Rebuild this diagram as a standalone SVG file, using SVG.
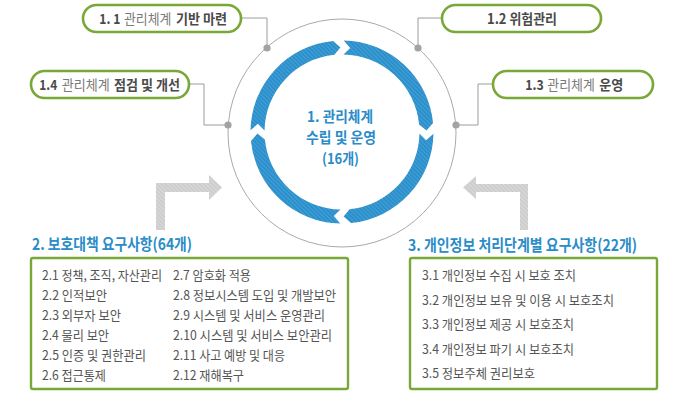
<svg xmlns="http://www.w3.org/2000/svg" width="683" height="393" viewBox="0 0 683 393">
<defs>
<pattern id="hatchBlue" patternUnits="userSpaceOnUse" width="3" height="3" patternTransform="rotate(-45)">
<rect width="3" height="3" fill="#2a8fcb"/>
<rect width="1" height="3" fill="#45a0d5"/>
</pattern>
<pattern id="hatchGray" patternUnits="userSpaceOnUse" width="3" height="3" patternTransform="rotate(-45)">
<rect width="3" height="3" fill="#cdcdcd"/>
<rect width="1" height="3" fill="#dadada"/>
</pattern>
<style>
text{font-family:"Noto Sans CJK KR","Noto Sans",sans-serif;}
.pill{fill:#fff;stroke:#79a838;stroke-width:2.6;}
.box{fill:#fff;stroke:#79a838;stroke-width:2.4;}
.conn{fill:none;stroke:#9c9c9c;stroke-width:1;}
.dot{fill:#a3a3a3;}
.b{font-size:14px;font-weight:700;fill:#4a4a4a;}
.l{font-size:14px;font-weight:400;fill:#7a7a7a;}
.ctr{font-size:14.4px;font-weight:700;fill:#2a8cc8;text-anchor:middle;}
.head{font-size:16px;font-weight:700;fill:#2a8cc8;}
.item{font-size:13px;font-weight:400;fill:#555;}
.seg{fill:url(#hatchBlue);}
.garrow{fill:url(#hatchGray);}
</style>
</defs>
<rect width="683" height="393" fill="#fff"/>

<g id="connectors">
<circle cx="342" cy="133" r="114" fill="none" stroke="#aaa" stroke-width="1"/>
<polyline class="conn" points="241,18 267,18 267,48"/>
<polyline class="conn" points="189,84 204,84 204,125 228,125"/>
<polyline class="conn" points="442,18 418,18 418,48"/>
<polyline class="conn" points="493,84 478,84 478,125 456,125"/>
<circle class="dot" cx="267" cy="48" r="3.6"/>
<circle class="dot" cx="228" cy="125" r="3.6"/>
<circle class="dot" cx="418" cy="48" r="3.6"/>
<circle class="dot" cx="456" cy="125" r="3.6"/>
<path class="garrow" d="M156,230 L156,183 L209,183 L209,175 L222,187.5 L209,200 L209,192 L165,192 L165,230 Z"/>
<path class="garrow" d="M528,230 L528,184 L476,184 L476,176 L463,187.5 L476,199 L476,192 L520,192 L520,230 Z"/>
</g>

<g id="node-center">
<path class="seg" d="M343.76,40.52 A91.5,91.5 0 0,1 433.06,123.07 L426.48,130.38 L419.13,124.44 A77.5,77.5 0 0,0 343.49,54.51 L350.25,47.90 Z"/>
<path class="seg" d="M433.48,133.76 A91.5,91.5 0 0,1 350.93,223.06 L343.62,216.48 L349.56,209.13 A77.5,77.5 0 0,0 419.49,133.49 L426.10,140.25 Z"/>
<path class="seg" d="M340.24,223.48 A91.5,91.5 0 0,1 250.94,140.93 L257.52,133.62 L264.87,139.56 A77.5,77.5 0 0,0 340.51,209.49 L333.75,216.10 Z"/>
<path class="seg" d="M250.52,130.24 A91.5,91.5 0 0,1 333.07,40.94 L340.38,47.52 L334.44,54.87 A77.5,77.5 0 0,0 264.51,130.51 L257.90,123.75 Z"/>
<text class="ctr" x="340" y="122" textLength="66" lengthAdjust="spacingAndGlyphs">1. 관리체계</text>
<text class="ctr" x="341" y="143" textLength="70" lengthAdjust="spacingAndGlyphs">수립 및 운영</text>
<text class="ctr" x="340.5" y="164" textLength="37" lengthAdjust="spacingAndGlyphs">(16개)</text>
</g>

<g id="node-1-1">
<rect class="pill" x="83" y="5" width="158" height="27" rx="13.5"/>
<text class="b" x="99.3" y="24" textLength="21" lengthAdjust="spacingAndGlyphs">1. 1</text>
<text class="l" x="124" y="24" textLength="47.5" lengthAdjust="spacingAndGlyphs">관리체계</text>
<text class="b" x="176" y="24" textLength="51" lengthAdjust="spacingAndGlyphs">기반 마련</text>
</g>
<g id="node-1-4">
<rect class="pill" x="31" y="71" width="158" height="27" rx="13.5"/>
<text class="b" x="39.3" y="90" textLength="18" lengthAdjust="spacingAndGlyphs">1.4</text>
<text class="l" x="61.7" y="90" textLength="48" lengthAdjust="spacingAndGlyphs">관리체계</text>
<text class="b" x="114" y="90" textLength="66" lengthAdjust="spacingAndGlyphs">점검 및 개선</text>
</g>
<g id="node-1-2">
<rect class="pill" x="442" y="5" width="159" height="27" rx="13.5"/>
<text class="b" x="487" y="24" textLength="70" lengthAdjust="spacingAndGlyphs">1.2 위험관리</text>
</g>
<g id="node-1-3">
<rect class="pill" x="493" y="71" width="160" height="27" rx="13.5"/>
<text class="b" x="525.3" y="90" textLength="18.5" lengthAdjust="spacingAndGlyphs">1.3</text>
<text class="l" x="547.3" y="90" textLength="47.5" lengthAdjust="spacingAndGlyphs">관리체계</text>
<text class="b" x="599.3" y="90" textLength="24" lengthAdjust="spacingAndGlyphs">운영</text>
</g>

<g id="node-2">
<text class="head" x="32" y="250" textLength="160" lengthAdjust="spacingAndGlyphs">2. 보호대책 요구사항(64개)</text>
<rect class="box" x="31" y="258" width="317" height="131" rx="2"/>
<text class="item" x="42" y="280" textLength="120" lengthAdjust="spacingAndGlyphs">2.1 정책, 조직, 자산관리</text>
<text class="item" x="42" y="300" textLength="65" lengthAdjust="spacingAndGlyphs">2.2 인적보안</text>
<text class="item" x="42" y="320" textLength="79" lengthAdjust="spacingAndGlyphs">2.3 외부자 보안</text>
<text class="item" x="42" y="339.5" textLength="67" lengthAdjust="spacingAndGlyphs">2.4 물리 보안</text>
<text class="item" x="42" y="359.5" textLength="104" lengthAdjust="spacingAndGlyphs">2.5 인증 및 권한관리</text>
<text class="item" x="42" y="379.5" textLength="64" lengthAdjust="spacingAndGlyphs">2.6 접근통제</text>
<text class="item" x="173" y="280" textLength="78" lengthAdjust="spacingAndGlyphs">2.7 암호화 적용</text>
<text class="item" x="173" y="300" textLength="163" lengthAdjust="spacingAndGlyphs">2.8 정보시스템 도입 및 개발보안</text>
<text class="item" x="173" y="320" textLength="152" lengthAdjust="spacingAndGlyphs">2.9 시스템 및 서비스 운영관리</text>
<text class="item" x="173" y="339.5" textLength="159" lengthAdjust="spacingAndGlyphs">2.10 시스템 및 서비스 보안관리</text>
<text class="item" x="173" y="359.5" textLength="112" lengthAdjust="spacingAndGlyphs">2.11 사고 예방 및 대응</text>
<text class="item" x="173" y="379.5" textLength="71" lengthAdjust="spacingAndGlyphs">2.12 재해복구</text>
</g>

<g id="node-3">
<text class="head" x="408" y="251" textLength="229" lengthAdjust="spacingAndGlyphs">3. 개인정보 처리단계별 요구사항(22개)</text>
<rect class="box" x="410" y="258" width="247" height="131" rx="2"/>
<text class="item" x="422" y="280" textLength="154" lengthAdjust="spacingAndGlyphs">3.1 개인정보 수집 시 보호 조치</text>
<text class="item" x="422" y="304.6" textLength="192" lengthAdjust="spacingAndGlyphs">3.2 개인정보 보유 및 이용 시 보호조치</text>
<text class="item" x="422" y="329.2" textLength="152" lengthAdjust="spacingAndGlyphs">3.3 개인정보 제공 시 보호조치</text>
<text class="item" x="422" y="353.8" textLength="152" lengthAdjust="spacingAndGlyphs">3.4 개인정보 파기 시 보호조치</text>
<text class="item" x="422" y="378.4" textLength="113" lengthAdjust="spacingAndGlyphs">3.5 정보주체 권리보호</text>
</g>
</svg>
